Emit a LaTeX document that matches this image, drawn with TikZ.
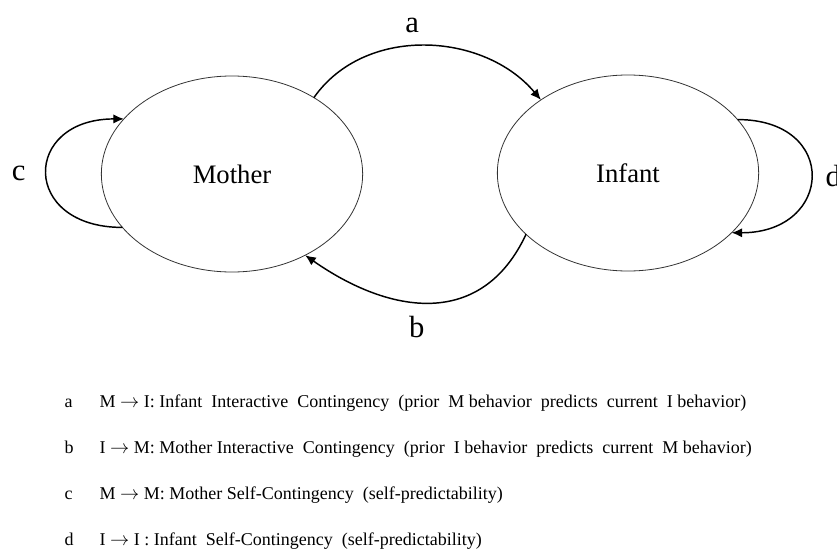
\documentclass[tikz,border=0pt]{standalone}
\usepackage{fontspec}
\setmainfont{Liberation Serif}
\usetikzlibrary{arrows.meta,shapes.geometric}

\begin{document}
\begin{tikzpicture}[x=0.75pt,y=-0.75pt,
    person/.style={draw=black!80, line width=0.6pt, ellipse, outer sep=0pt,
        minimum width=196pt, minimum height=147pt, font=\fontsize{20}{24}\selectfont},
    link/.style={line width=1.1pt, -{Latex[length=8pt,width=7pt]}},
    tag/.style={font=\fontsize{23}{27}\selectfont},
    legend/.style={font=\fontsize{13.5}{16}\selectfont, anchor=base west}]

    \useasboundingbox (0,0) rectangle (837,549);

    \node[person] (mother) at (232,174) {Mother};
    \node[person] (infant) at (628,173) {Infant};

    \draw[link] (mother.43) to[out=55,in=130] node[tag, pos=0.45, above=6pt] (a) {a} (infant.140);
    \draw[link] (infant.211) to[out=-115,in=-35,looseness=1.2] node[tag, pos=0.56, below=7pt] (b) {b} (mother.-48);
    \draw[link] (mother.206) to[out=180,in=180,looseness=2.4] node[tag, midway, left=12pt] (c) {c} (mother.153);
    \draw[link] (infant.26) to[out=0,in=0,looseness=2.3] node[tag, midway, right=7pt] (d) {d} (infant.-30);

    \foreach \l/\txt [count=\i] in {
        a/{M $\rightarrow$ I: Infant~ Interactive~ Contingency~ (prior~ M behavior~ predicts~ current~ I behavior)},
        b/{I $\rightarrow$ M: Mother Interactive~ Contingency~ (prior~ I behavior~ predicts~ current~ M behavior)},
        c/{M $\rightarrow$ M: Mother Self-Contingency~ (self-predictability)},
        d/{I $\rightarrow$ I : Infant~ Self-Contingency~ (self-predictability)}}
    {
        \node[legend] (key\l) at (60,361+46*\i) {\l};
        \node[legend] (text\l) at (95,361+46*\i) {\txt};
    }

\end{tikzpicture}
\end{document}
